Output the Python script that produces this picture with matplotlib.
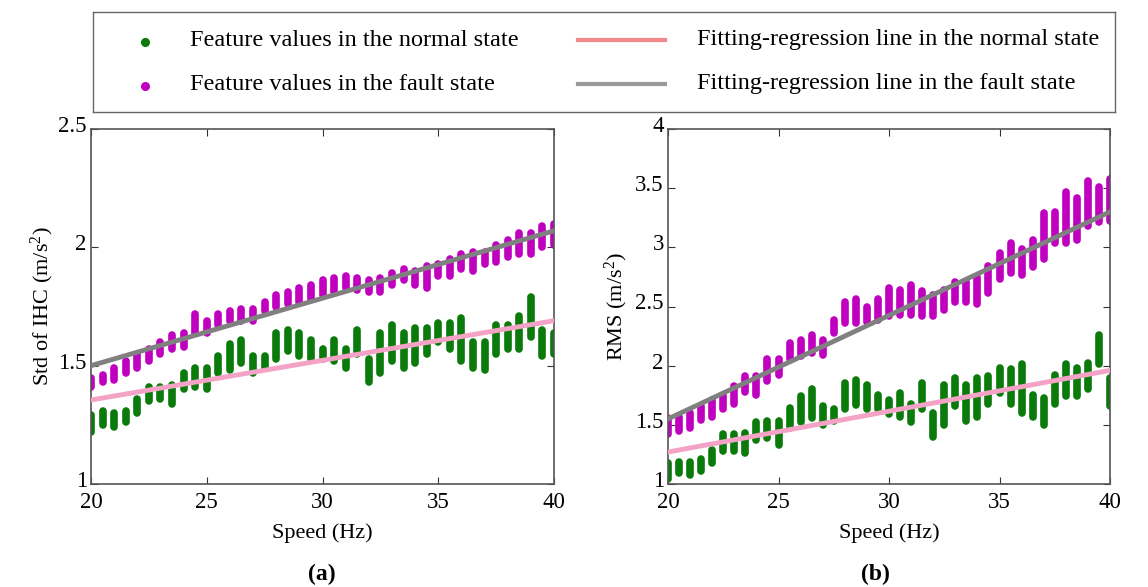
import numpy as np
import matplotlib
matplotlib.use('Agg')
import matplotlib.pyplot as plt
import matplotlib.transforms as mtransforms
from matplotlib.lines import Line2D

plt.rcParams['font.family'] = ['Liberation Serif', 'DejaVu Serif']
plt.rcParams['mathtext.fontset'] = 'custom'
plt.rcParams['mathtext.rm'] = 'Liberation Serif'
plt.rcParams['mathtext.it'] = 'Liberation Serif:italic'

# Vitesses de rotation (Hz) - un groupe de points tous les 0.5 Hz
vitesses = np.arange(20, 40.01, 0.5)

# (a) Std of IHC : bas / haut de chaque groupe de points
std_fault_bas = [1.41, 1.43, 1.44, 1.47, 1.49, 1.52, 1.55, 1.57, 1.58, 1.64, 1.64,
                 1.67, 1.69, 1.69, 1.69, 1.73, 1.75, 1.76, 1.77, 1.78, 1.80, 1.81,
                 1.83, 1.82, 1.81, 1.81, 1.84, 1.86, 1.84, 1.83, 1.88, 1.88, 1.91,
                 1.90, 1.93, 1.94, 1.96, 1.97, 1.97, 2.00, 2.01]
std_fault_haut = [1.45, 1.46, 1.49, 1.52, 1.55, 1.57, 1.60, 1.63, 1.64, 1.72, 1.69,
                  1.72, 1.73, 1.74, 1.74, 1.77, 1.80, 1.81, 1.83, 1.84, 1.86, 1.87,
                  1.88, 1.87, 1.86, 1.87, 1.89, 1.91, 1.90, 1.92, 1.93, 1.95, 1.97,
                  1.98, 1.98, 2.01, 2.03, 2.06, 2.06, 2.09, 2.10]
std_normal_bas = [1.22, 1.25, 1.24, 1.26, 1.30, 1.35, 1.36, 1.34, 1.40, 1.41, 1.40,
                  1.47, 1.48, 1.51, 1.47, 1.49, 1.53, 1.56, 1.54, 1.53, 1.53, 1.52,
                  1.49, 1.55, 1.43, 1.47, 1.52, 1.49, 1.51, 1.55, 1.60, 1.57, 1.52,
                  1.49, 1.48, 1.55, 1.57, 1.57, 1.62, 1.54, 1.55]
std_normal_haut = [1.29, 1.31, 1.30, 1.31, 1.36, 1.41, 1.41, 1.42, 1.47, 1.49, 1.49,
                   1.54, 1.59, 1.61, 1.54, 1.54, 1.64, 1.65, 1.64, 1.61, 1.57, 1.61,
                   1.57, 1.65, 1.53, 1.64, 1.67, 1.64, 1.66, 1.66, 1.68, 1.68, 1.70,
                   1.60, 1.60, 1.67, 1.67, 1.71, 1.79, 1.65, 1.64]

# (b) RMS : bas / haut de chaque groupe de points
rms_fault_bas = [1.42, 1.45, 1.47, 1.54, 1.57, 1.63, 1.68, 1.78, 1.75, 1.87, 1.92,
                 2.06, 2.08, 2.11, 2.09, 2.28, 2.36, 2.36, 2.37, 2.39, 2.42, 2.43,
                 2.43, 2.42, 2.42, 2.47, 2.54, 2.54, 2.52, 2.61, 2.73, 2.78, 2.77,
                 2.83, 2.90, 3.04, 3.04, 3.06, 3.18, 3.21, 3.22]
rms_fault_haut = [1.56, 1.57, 1.60, 1.66, 1.71, 1.75, 1.83, 1.91, 1.91, 2.06, 2.06,
                  2.19, 2.22, 2.26, 2.22, 2.39, 2.54, 2.56, 2.50, 2.56, 2.66, 2.64,
                  2.68, 2.63, 2.60, 2.64, 2.71, 2.71, 2.75, 2.84, 2.95, 3.04, 2.99,
                  3.06, 3.29, 3.30, 3.47, 3.42, 3.56, 3.51, 3.58]
rms_normal_bas = [1.04, 1.09, 1.08, 1.11, 1.18, 1.28, 1.28, 1.26, 1.37, 1.39, 1.33,
                  1.47, 1.52, 1.56, 1.50, 1.53, 1.63, 1.67, 1.63, 1.63, 1.59, 1.57,
                  1.52, 1.63, 1.40, 1.50, 1.66, 1.53, 1.57, 1.68, 1.77, 1.68, 1.60,
                  1.57, 1.50, 1.68, 1.74, 1.74, 1.80, 2.01, 1.66]
rms_normal_haut = [1.18, 1.19, 1.19, 1.21, 1.29, 1.42, 1.42, 1.43, 1.52, 1.53, 1.53,
                   1.64, 1.74, 1.80, 1.66, 1.63, 1.85, 1.88, 1.84, 1.75, 1.71, 1.77,
                   1.68, 1.85, 1.60, 1.84, 1.90, 1.84, 1.90, 1.91, 1.98, 1.97, 2.01,
                   1.75, 1.73, 1.92, 2.01, 1.98, 2.02, 2.26, 1.90]

# Droites de régression (valeurs à 20 Hz et 40 Hz)
vitesses_fit = [20, 40]
std_fit_normal = [1.355, 1.69]
std_fit_fault = [1.50, 2.07]
rms_fit_normal = [1.27, 1.96]
rms_fit_fault = [1.55, 3.30]

VERT = '#0a7a0a'
MAGENTA = '#bf00bf'
ROSE = '#f4a3c6'
GRIS = '#808080'
ROSE_LEG = '#f08a8a'

W, H = 1148, 587
fig = plt.figure(figsize=(W / 100, H / 100), dpi=100)


def panneau(rect, fault_bas, fault_haut, normal_bas, normal_haut, fit_n, fit_f, ylim, yticks, ylabel, lpad):
    ax = fig.add_axes(rect)
    ax.vlines(vitesses, fault_bas, fault_haut, colors=MAGENTA, linewidth=5.5, capstyle='round', zorder=2)
    ax.vlines(vitesses, normal_bas, normal_haut, colors=VERT, linewidth=5.5, capstyle='round', zorder=2)
    ax.plot(vitesses_fit, fit_f, color=GRIS, linewidth=3.5, zorder=3)
    ax.plot(vitesses_fit, fit_n, color=ROSE, linewidth=3.5, zorder=3)
    ax.set_xlim(20, 40)
    ax.set_ylim(*ylim)
    ax.set_xticks([20, 25, 30, 35, 40])
    ax.set_yticks(yticks)
    ax.set_yticklabels(['%g' % t for t in yticks])
    ax.tick_params(direction='in', top=True, right=True, labelsize=16.5, length=5,
                   color='#333333')
    ax.tick_params(axis='x', pad=6)
    ax.tick_params(axis='y', pad=3)
    # étiquettes de l'axe y légèrement remontées (comme l'original)
    decal = mtransforms.ScaledTranslation(0, 5 / 100, fig.dpi_scale_trans)
    for lab in ax.get_yticklabels():
        lab.set_transform(lab.get_transform() + decal)
    for s in ax.spines.values():
        s.set_color('#555555')
        s.set_linewidth(1.2)
    ax.set_xlabel('Speed (Hz)', fontsize=16, labelpad=7)
    ax.set_ylabel(ylabel, fontsize=16, labelpad=lpad)
    return ax


ax1 = panneau([91 / W, 1 - 484 / H, (554 - 91) / W, (484 - 129) / H],
              std_fault_bas, std_fault_haut, std_normal_bas, std_normal_haut,
              std_fit_normal, std_fit_fault, (1, 2.5), [1, 1.5, 2, 2.5],
              'Std of IHC (m/s$^2$)', 2)
ax2 = panneau([668 / W, 1 - 484 / H, (1110 - 668) / W, (484 - 129) / H],
              rms_fault_bas, rms_fault_haut, rms_normal_bas, rms_normal_haut,
              rms_fit_normal, rms_fit_fault, (1, 4), [1, 1.5, 2, 2.5, 3, 3.5, 4],
              'RMS (m/s$^2$)', 4)

fig.text(322 / W, 1 - 574 / H, '(a)', fontsize=17, fontweight='bold', ha='center', va='center')
fig.text(875 / W, 1 - 574 / H, '(b)', fontsize=17, fontweight='bold', ha='center', va='center')

# Légende dessinée dans un cadre
leg = fig.add_axes([93 / W, 1 - 112 / H, (1115 - 93) / W, 100 / H])
leg.set_xlim(0, 1022)
leg.set_ylim(100, 0)
leg.set_xticks([])
leg.set_yticks([])
for s in leg.spines.values():
    s.set_color('#666666')
    s.set_linewidth(1.0)
leg.plot([52], [30], 'o', color=VERT, markersize=5.5)
leg.plot([52], [74], 'o', color=MAGENTA, markersize=5.5)
leg.add_line(Line2D([485, 572], [28, 28], color=ROSE_LEG, linewidth=3))
leg.add_line(Line2D([485, 572], [72, 72], color='#999999', linewidth=3))
kw = dict(fontsize=17.5, va='center', ha='left')
leg.text(97, 28, 'Feature values in the normal state', **kw)
leg.text(97, 72, 'Feature values in the fault state', **kw)
leg.text(604, 28, 'Fitting-regression line in the normal state', **kw)
leg.text(604, 72, 'Fitting-regression line in the fault state', **kw)

fig.savefig('out.png', dpi=100)
